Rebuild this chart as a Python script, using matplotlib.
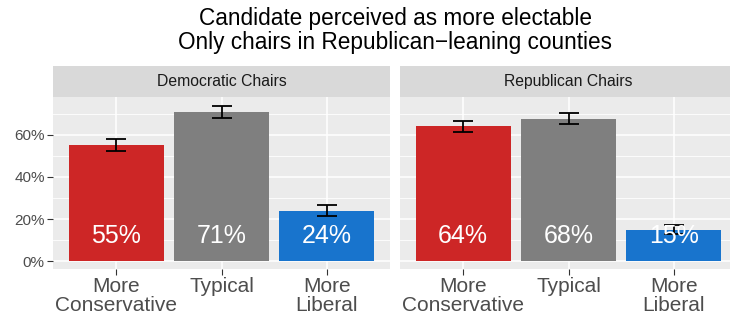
import matplotlib
matplotlib.use("Agg")
import matplotlib.pyplot as plt
import numpy as np

plt.rcParams['font.family'] = ['Liberation Sans', 'DejaVu Sans']

categories = ["More\nConservative", "Typical", "More\nLiberal"]
panels = ["Democratic Chairs", "Republican Chairs"]
dem_values = [55, 71, 24]
dem_err = [2.85, 2.85, 2.5]
rep_values = [64, 67.7, 15]
rep_err = [2.6, 2.7, 2.05]
labels_dem = ["55%", "71%", "24%"]
labels_rep = ["64%", "68%", "15%"]
bar_colors = ["#CD2626", "#7F7F7F", "#1874CD"]
yticks = [0, 20, 40, 60]
ytick_labels = ["0%", "20%", "40%", "60%"]

W, H = 730, 322
fig = plt.figure(figsize=(W / 100, H / 100), dpi=100)

def fx(x): return x / W
def fy(y): return 1 - y / H

panel_top, panel_bot = 97, 269
strip_top = 66
panel_lefts = [53, 400]
panel_w = 337

data = [(dem_values, dem_err, labels_dem), (rep_values, rep_err, labels_rep)]

for i, (vals, errs, labs) in enumerate(data):
    left = panel_lefts[i]
    ax = fig.add_axes([fx(left), fy(panel_bot), panel_w / W, (panel_bot - panel_top) / H])
    ax.set_facecolor("#EBEBEB")
    x = np.arange(1, len(categories) + 1)
    # grid
    for yv in [10, 30, 50, 70]:
        ax.axhline(yv, color="white", lw=0.6, zorder=0.5)
    for yv in yticks:
        ax.axhline(yv, color="white", lw=1.1, zorder=0.6)
    for xv in x:
        ax.axvline(xv, color="white", lw=1.1, zorder=0.6)
    ax.bar(x, vals, width=0.9, color=bar_colors, zorder=2)
    ax.errorbar(x, vals, yerr=errs, fmt='none', ecolor='black', elinewidth=1.3,
                capsize=7, capthick=1.3, zorder=3)
    for xi, lab in zip(x, labs):
        ax.text(xi, 11.8, lab, ha='center', va='center', color='white', fontsize=18, zorder=4)
    ax.set_xlim(0.4, 3.6)
    ax.set_ylim(-3.7, 77.9)
    ax.set_xticks(x)
    ax.set_xticklabels(categories, fontsize=15, color="#4D4D4D", linespacing=0.95)
    ax.set_yticks(yticks)
    ax.tick_params(axis='both', color="#333333", length=4, width=0.8, pad=2)
    if i == 0:
        ax.set_yticklabels(ytick_labels, fontsize=11, color="#4D4D4D")
    else:
        ax.set_yticklabels([])
        ax.tick_params(axis='y', length=0)
    for s in ax.spines.values():
        s.set_visible(False)
    # strip
    sax = fig.add_axes([fx(left), fy(panel_top), panel_w / W, (panel_top - strip_top) / H])
    sax.set_facecolor("#D9D9D9")
    sax.set_xticks([]); sax.set_yticks([])
    for s in sax.spines.values():
        s.set_visible(False)
    sax.text(0.5, 0.5, panels[i], ha='center', va='center', fontsize=11.3,
             color="#1A1A1A", transform=sax.transAxes)

title_x = fx(395)
fig.text(title_x, fy(18), "Candidate perceived as more electable", ha='center', va='center',
         fontsize=16.3, color='black')
fig.text(title_x, fy(42.5), "Only chairs in Republican\u2212leaning counties", ha='center', va='center',
         fontsize=16.3, color='black')

fig.savefig("out.png", dpi=100)
